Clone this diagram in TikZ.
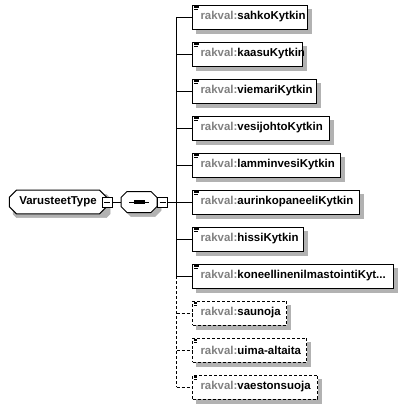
\documentclass[tikz,border=0pt]{standalone}
\usepackage{fontspec}
\setmainfont{Liberation Sans}
\usetikzlibrary{shapes.misc}

\definecolor{prefixgray}{RGB}{128,128,128}
\colorlet{shadowgray}{black!30}
\newcommand{\rk}[1]{\mbox{\bfseries\textcolor{prefixgray}{rakval:}#1}}

\begin{document}
\begin{tikzpicture}[x=1bp, y=-1bp]

\useasboundingbox (0,0) rectangle (407,409);

\tikzstyle{shadow_style} = [fill=shadowgray, draw=shadowgray, line width=0.5bp]
\tikzstyle{elem_style} = [rectangle, draw=black, fill=white, line width=1bp, minimum height=24bp, inner xsep=8bp, anchor=west, align=left, font=\fontsize{11.5}{13}\selectfont,
  path picture={
    \draw[black, line width=0.8bp] ([xshift=1.5bp, yshift=-1.2bp]path picture bounding box.north west) -- ++(5bp,0);
    \draw[black, line width=0.8bp] ([xshift=1.5bp, yshift=-2.7bp]path picture bounding box.north west) -- ++(5bp,0);
    \draw[black, line width=0.8bp] ([xshift=1.5bp, yshift=-4.2bp]path picture bounding box.north west) -- ++(4bp,0);
  }]
\tikzstyle{opt_style} = [elem_style, dash pattern=on 3bp off 2bp]
\tikzstyle{root_style} = [chamfered rectangle, chamfered rectangle xsep=3.5bp, chamfered rectangle ysep=3.5bp, draw=black, fill=white, line width=1bp, minimum width=97bp, minimum height=23bp, inner xsep=0bp, anchor=west, font=\fontsize{11.5}{13}\selectfont\bfseries]
\tikzstyle{seq_style} = [rectangle, minimum width=36bp, minimum height=21bp, inner sep=0bp]
\tikzstyle{minus_style} = [rectangle, draw=black, fill=white, line width=1bp, minimum size=10bp, inner sep=0bp,
  path picture={
    \draw[black, line width=1bp] ([xshift=-3bp]path picture bounding box.center) -- ([xshift=3bp]path picture bounding box.center);
  }]
\tikzstyle{edge_style} = [draw=black, line width=1bp]
\tikzstyle{opt_edge_style} = [edge_style, dash pattern=on 3bp off 2bp]

% drop shadows
\path[shadow_style] (16.5,194.5) -- (106.5,194.5) -- (110,198) -- (110,214) -- (106.5,217.5) -- (16.5,217.5) -- (13,214) -- (13,198) -- cycle;
\path[shadow_style] (131,195.5) -- (155,195.5) -- (161,201.5) -- (161,210.5) -- (155,216.5) -- (131,216.5) -- (125,210.5) -- (125,201.5) -- cycle;
\foreach \yy/\ww in {17/115, 54/110, 91/124, 128/137, 165/148, 202/167, 239/111, 276/201, 313/94, 350/114, 387/125}
  \path[shadow_style] (196, \yy-8) rectangle (196+\ww, \yy+16);

\node[root_style] (root) at (9, 202) {VarusteetType};
\node[seq_style] (seq) at (139, 202) {};
\draw[edge_style, fill=white] (127,191.5) -- (151,191.5) -- (157,197.5) -- (157,206.5) -- (151,212.5) -- (127,212.5) -- (121,206.5) -- (121,197.5) -- cycle;
\draw[line width=0.8bp] ([xshift=-10bp]seq.center) -- ([xshift=10bp]seq.center);
\fill ([xshift=-5.5bp, yshift=-1.6bp]seq.center) rectangle ([xshift=-2.3bp, yshift=1.6bp]seq.center);
\fill ([xshift=-1.6bp, yshift=-1.6bp]seq.center) rectangle ([xshift=1.6bp, yshift=1.6bp]seq.center);
\fill ([xshift=2.3bp, yshift=-1.6bp]seq.center) rectangle ([xshift=5.5bp, yshift=1.6bp]seq.center);
\node[minus_style] (m0) at (root.east) {};
\node[minus_style, anchor=west] (m1) at (seq.east) {};

\node[elem_style, text width=99bp] (e0) at (192, 17) {\rk{sahkoKytkin}};
\node[elem_style, text width=94bp] (e1) at (192, 54) {\rk{kaasuKytkin}};
\node[elem_style, text width=108bp] (e2) at (192, 91) {\rk{viemariKytkin}};
\node[elem_style, text width=121bp] (e3) at (192, 128) {\rk{vesijohtoKytkin}};
\node[elem_style, text width=132bp] (e4) at (192, 165) {\rk{lamminvesiKytkin}};
\node[elem_style, text width=151bp] (e5) at (192, 202) {\rk{aurinkopaneeliKytkin}};
\node[elem_style, text width=95bp] (e6) at (192, 239) {\rk{hissiKytkin}};
\node[elem_style, text width=185bp] (e7) at (192, 276) {\rk{koneellinenilmastointiKyt...}};
\node[opt_style, text width=78bp] (e8) at (192, 313) {\rk{saunoja}};
\node[opt_style, text width=98bp] (e9) at (192, 350) {\rk{uima-altaita}};
\node[opt_style, text width=109bp] (e10) at (192, 387) {\rk{vaestonsuoja}};

\coordinate (j0) at (176.5, 17);
\coordinate (j1) at (176.5, 54);
\coordinate (j2) at (176.5, 91);
\coordinate (j3) at (176.5, 128);
\coordinate (j4) at (176.5, 165);
\coordinate (j5) at (176.5, 202);
\coordinate (j6) at (176.5, 239);
\coordinate (j7) at (176.5, 276);
\coordinate (j8) at (176.5, 313);
\coordinate (j9) at (176.5, 350);
\coordinate (j10) at (176.5, 387);

\draw[edge_style]  (m0) edge (seq.west);
\draw[edge_style]  (m1) edge (j5);
\draw[edge_style]  (j0) edge (j7);
\draw[opt_edge_style]  (j7) edge (j10);

\draw[edge_style]  (j0) edge (e0);
\draw[edge_style]  (j1) edge (e1);
\draw[edge_style]  (j2) edge (e2);
\draw[edge_style]  (j3) edge (e3);
\draw[edge_style]  (j4) edge (e4);
\draw[edge_style]  (j5) edge (e5);
\draw[edge_style]  (j6) edge (e6);
\draw[edge_style]  (j7) edge (e7);
\draw[opt_edge_style]  (j8) edge (e8);
\draw[opt_edge_style]  (j9) edge (e9);
\draw[opt_edge_style]  (j10) edge (e10);

\end{tikzpicture}
\end{document}
